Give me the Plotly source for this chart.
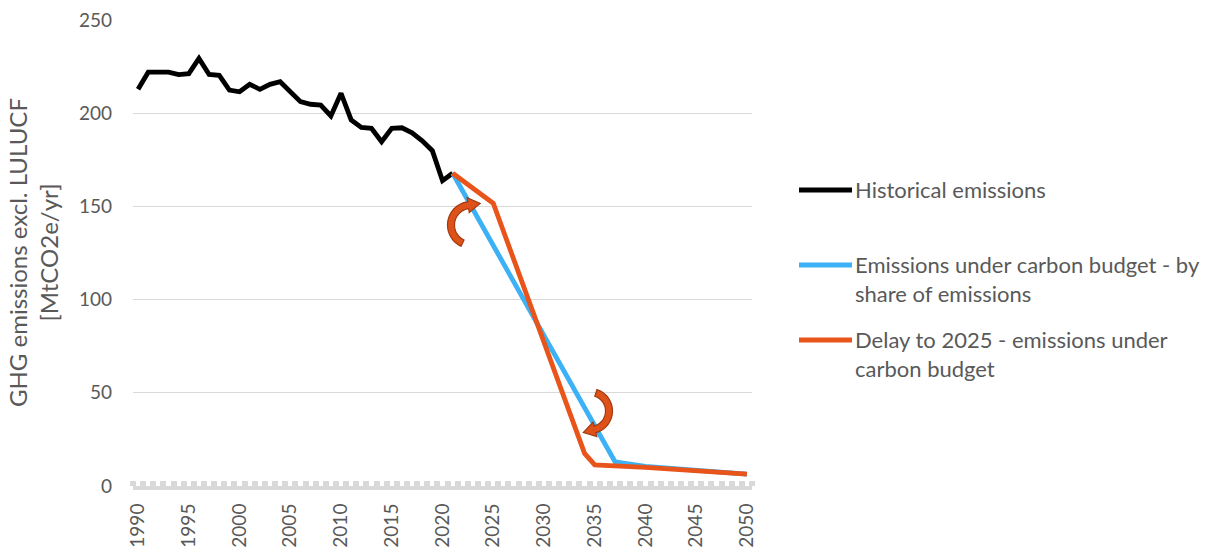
import math
import plotly.graph_objects as go

# ---------------- data ----------------
hist_years = list(range(1990, 2022))
hist_values = [212.8, 222.0, 222.0, 222.0, 220.7, 221.2, 229.4, 220.8, 220.3, 212.4,
               211.5, 215.5, 212.8, 215.5, 216.9, 211.5, 206.2, 204.8, 204.4, 198.5,
               210.7, 196.4, 192.4, 191.9, 184.7, 191.9, 192.2, 189.5, 185.2, 179.9,
               163.8, 167.8]

budget_years = [2021, 2037, 2040, 2045, 2050]
budget_values = [167.8, 13.0, 10.5, 8.5, 6.4]

delay_years = [2021, 2025, 2034, 2035, 2040, 2045, 2050]
delay_values = [167.8, 151.7, 17.5, 11.3, 10.0, 8.3, 6.4]

series_names = ["Historical emissions",
                "Emissions under carbon budget - by<br>share of emissions",
                "Delay to 2025 - emissions under<br>carbon budget"]
series_colors = ["#000000", "#3DB1F5", "#E8541A"]

x_ticks = list(range(1990, 2051, 5))
y_ticks = [0, 50, 100, 150, 200, 250]
y_title = "GHG emissions excl. LULUCF<br>[MtCO2e/yr]"

# ---------------- layout geometry ----------------
W, H = 1216, 551
ML, MR, MT, MB = 133, 464, 20, 65
PW = W - ML - MR
PH = H - MT - MB
XMIN, XMAX = 1989.5, 2050.5
YMIN, YMAX = 0, 250
FONT = "Lato"
GREY = "#595959"


def px_to_data(px, py):
    x = XMIN + (px - ML) / PW * (XMAX - XMIN)
    y = YMIN + (H - MB - py) / PH * (YMAX - YMIN)
    return x, y


def px_to_paper(px, py):
    return (px - ML) / PW, (H - MB - py) / PH


def arc_arrow(cx, cy, r, w, a0, a1, head_w, head_len):
    """Curved arrow in pixel space -> SVG path in data coords."""
    n = 30
    sgn = 1 if a1 > a0 else -1
    outer, inner = [], []
    for i in range(n + 1):
        a = math.radians(a0 + (a1 - a0) * i / n)
        outer.append((cx + (r + w / 2) * math.cos(a), cy + (r + w / 2) * math.sin(a)))
        inner.append((cx + (r - w / 2) * math.cos(a), cy + (r - w / 2) * math.sin(a)))
    a = math.radians(a1)
    ex, ey = cx + r * math.cos(a), cy + r * math.sin(a)
    tx, ty = -math.sin(a) * sgn, math.cos(a) * sgn
    nx, ny = math.cos(a), math.sin(a)
    h_out = (ex + nx * head_w, ey + ny * head_w)
    h_in = (ex - nx * head_w, ey - ny * head_w)
    tip = (ex + tx * head_len, ey + ty * head_len)
    pts = outer + [h_out, tip, h_in] + inner[::-1]
    d = []
    for i, (px, py) in enumerate(pts):
        x, y = px_to_data(px, py)
        d.append(("M" if i == 0 else "L") + f"{x:.4f},{y:.4f}")
    return " ".join(d) + " Z"


fig = go.Figure()
fig.add_trace(go.Scatter(x=hist_years, y=hist_values, mode="lines",
                         line=dict(color=series_colors[0], width=4.8),
                         name=series_names[0], showlegend=False))
fig.add_trace(go.Scatter(x=budget_years, y=budget_values, mode="lines",
                         line=dict(color=series_colors[1], width=4.8),
                         name=series_names[1], showlegend=False))
fig.add_trace(go.Scatter(x=delay_years, y=delay_values, mode="lines",
                         line=dict(color=series_colors[2], width=4.8),
                         name=series_names[2], showlegend=False))

shapes = []
# curved arrows
for spec in [dict(cx=471, cy=225, r=20, a0=115, a1=262),
             dict(cx=590, cy=411, r=19, a0=-72, a1=75)]:
    shapes.append(dict(type="path", xref="x", yref="y",
                       path=arc_arrow(spec["cx"], spec["cy"], spec["r"], 7,
                                      spec["a0"], spec["a1"], 7.5, 12),
                       fillcolor="#DE5219", line=dict(color="#A0390D", width=1.2),
                       layer="above"))

# manual legend
legend_rows = [190, 265, 340]
annotations = []
for name, color, py in zip(series_names, series_colors, legend_rows):
    x0, y0 = px_to_paper(799, py)
    x1, _ = px_to_paper(852, py)
    shapes.append(dict(type="line", xref="paper", yref="paper", x0=x0, x1=x1, y0=y0, y1=y0,
                       line=dict(color=color, width=4.8)))
    tx, ty = px_to_paper(853, py - 16)
    annotations.append(dict(xref="paper", yref="paper", x=tx, y=ty, xanchor="left",
                            yanchor="top", align="left", text=name, showarrow=False,
                            font=dict(family=FONT, size=22, color=GREY)))

# y axis title
annotations.append(dict(xref="paper", yref="paper", x=0, y=0.5, xanchor="center",
                        yanchor="middle", xshift=-100, text=y_title, textangle=-90,
                        showarrow=False, font=dict(family=FONT, size=24, color=GREY)))

fig.update_layout(
    width=W, height=H,
    margin=dict(l=ML, r=MR, t=MT, b=MB, autoexpand=False),
    paper_bgcolor="white", plot_bgcolor="white",
    font=dict(family=FONT, color=GREY),
    shapes=shapes, annotations=annotations,
    xaxis=dict(range=[XMIN, XMAX], tickmode="array", tickvals=x_ticks,
               ticktext=[str(v) for v in x_ticks], tickangle=-90,
               tickfont=dict(family=FONT, size=19, color=GREY),
               showgrid=False, zeroline=False, showline=True, linecolor="#D9D9D9",
               linewidth=4, ticks="", ticklabelstandoff=6,
               minor=dict(tick0=1989.5, dtick=1, ticks="inside", ticklen=5,
                          tickwidth=6, tickcolor="#D9D9D9", showgrid=False)),
    yaxis=dict(range=[YMIN, YMAX], tickvals=y_ticks,
               tickfont=dict(family=FONT, size=19, color=GREY),
               showgrid=True, gridcolor="#D9D9D9", gridwidth=1.3,
               zeroline=False, showline=False, ticks="", ticklabelstandoff=20),
)

fig.write_html("out.html", config={"displayModeBar": False},
               post_script="document.body.style.margin='0';document.body.style.overflow='hidden';")
